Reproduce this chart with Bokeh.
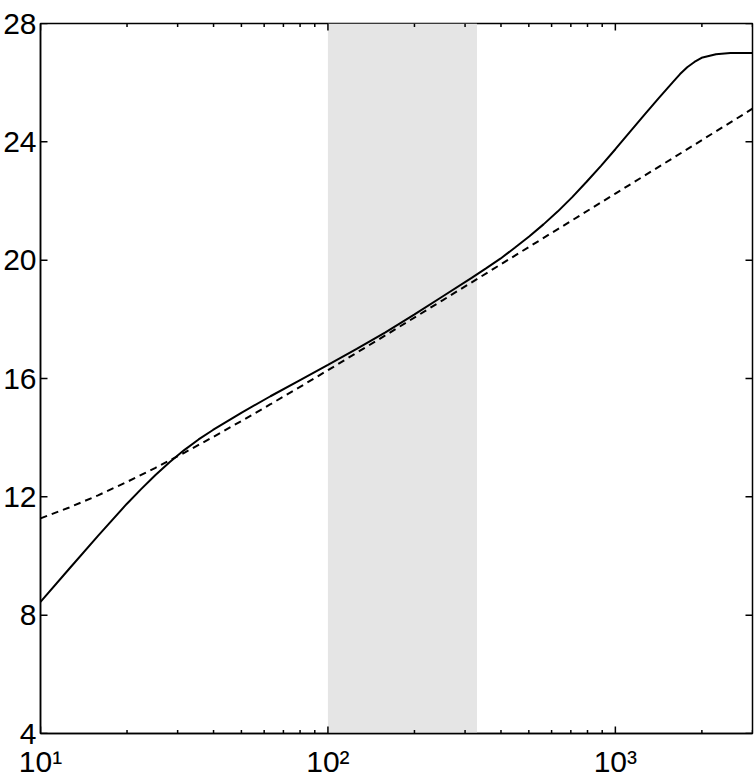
import math
from bokeh.plotting import figure
from bokeh.models import (Range1d, FixedTicker, BoxAnnotation)
from bokeh.embed import file_html
from bokeh.resources import INLINE

# ---- data ----
solid_x = [10, 12.59, 15.85, 19.95, 22.39, 25.12, 28.18, 31.62, 35.48, 39.81,
           50.12, 63.10, 79.43, 100, 125.9, 158.5, 199.5, 251.2, 316.2, 354.8,
           398.1, 446.7, 501.2, 562.3, 631.0, 707.9, 794.3, 891.3, 1000, 1122,
           1259, 1413, 1585, 1679, 1778, 1884, 1995, 2239, 2512, 3000]
solid_y = [8.45, 9.57, 10.68, 11.76, 12.26, 12.74, 13.18, 13.58, 13.94, 14.26,
           14.85, 15.40, 15.93, 16.46, 17.00, 17.56, 18.16, 18.78, 19.40, 19.72,
           20.05, 20.42, 20.80, 21.21, 21.65, 22.13, 22.65, 23.19, 23.75, 24.33,
           24.90, 25.47, 26.02, 26.29, 26.52, 26.70, 26.84, 26.96, 27.00, 27.00]

dash_x = [10, 12.59, 15.85, 19.95, 25.12, 31.62, 39.81, 50.12, 63.10, 79.43,
          100, 158.5, 251.2, 398.1, 631.0, 1000, 1585, 3000]
dash_y = [11.27, 11.64, 12.05, 12.50, 12.98, 13.49, 14.02, 14.57, 15.13, 15.70,
          16.28, 17.46, 18.65, 19.85, 21.05, 22.25, 23.45, 25.12]

shade_left = 100
shade_right = 330

x_lo, x_hi = 10, 3000
y_lo, y_hi = 4, 28
x_ticks = [10, 100, 1000]
x_tick_labels = {10: "10\u00b9", 100: "10\u00b2", 1000: "10\u00b3"}
x_minor = [m * d for d in [10, 100, 1000] for m in range(2, 10) if m * d <= x_hi]
y_ticks = [4, 8, 12, 16, 20, 24, 28]

FONT = "Liberation Sans"

p = figure(width=756, height=780, x_axis_type="log",
           x_range=Range1d(x_lo, x_hi), y_range=Range1d(y_lo, y_hi),
           output_backend="svg", toolbar_location=None,
           min_border_left=40, min_border_right=4, min_border_top=23,
           min_border_bottom=47)
p.xgrid.visible = False
p.ygrid.visible = False
p.outline_line_color = "black"
p.outline_line_width = 1.5
p.background_fill_color = "white"
p.border_fill_color = "white"

shade = BoxAnnotation(left=shade_left, right=shade_right, fill_color="#e5e5e5",
                      fill_alpha=1.0, line_color=None, level="underlay")
p.add_layout(shade)

p.line(solid_x, solid_y, line_color="black", line_width=2)
p.line(dash_x, dash_y, line_color="black", line_width=2, line_dash="7 5")

# inward ticks (MATLAB style) on all four sides
TK = dict(length_units="screen", line_color="black", line_width=1.5)
p.ray(x=[x_lo] * len(y_ticks), y=y_ticks, length=7, angle=0, **TK)
p.ray(x=[x_hi] * len(y_ticks), y=y_ticks, length=7, angle=math.pi, **TK)
p.ray(x=x_ticks, y=[y_lo] * len(x_ticks), length=7, angle=math.pi / 2, **TK)
p.ray(x=x_ticks, y=[y_hi] * len(x_ticks), length=7, angle=-math.pi / 2, **TK)
p.ray(x=x_minor, y=[y_lo] * len(x_minor), length=3.5, angle=math.pi / 2, **TK)
p.ray(x=x_minor, y=[y_hi] * len(x_minor), length=3.5, angle=-math.pi / 2, **TK)

def style_common(ax):
    ax.major_tick_in = 0
    ax.major_tick_out = 0
    ax.minor_tick_in = 0
    ax.minor_tick_out = 0
    ax.axis_line_width = 1.5
    ax.major_label_text_font = FONT
    ax.major_label_text_font_size = "30px"
    ax.major_label_text_color = "black"
    ax.axis_label_standoff = 0

xa = p.xaxis[0]
style_common(xa)
xa.ticker = FixedTicker(ticks=x_ticks, minor_ticks=x_minor)
xa.major_label_overrides = x_tick_labels
xa.major_label_standoff = 11

ya = p.yaxis[0]
style_common(ya)
ya.ticker = FixedTicker(ticks=y_ticks)
ya.major_label_standoff = 4

open("out.html", "w").write(file_html(p, INLINE))
